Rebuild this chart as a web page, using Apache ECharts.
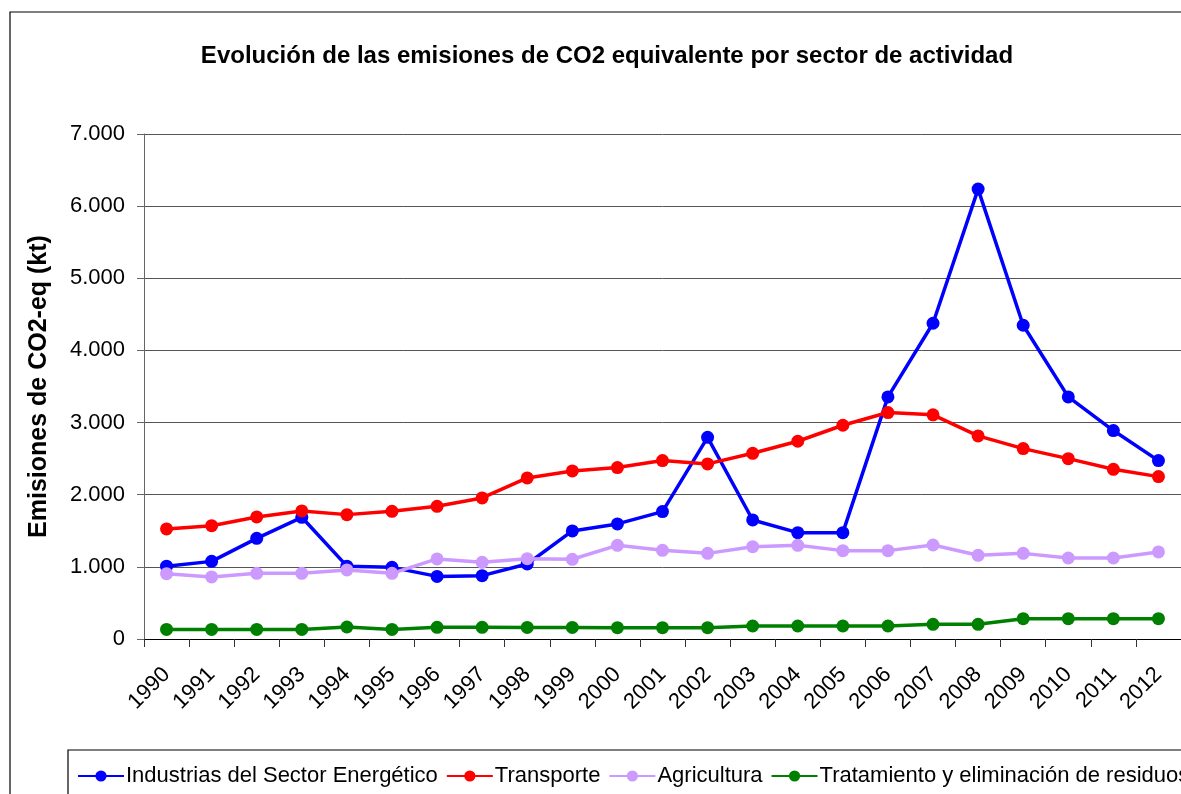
<!DOCTYPE html>
<html>
<head>
<meta charset="utf-8">
<script src="https://cdn.jsdelivr.net/npm/echarts@6/dist/echarts.min.js"></script>
<style>
html,body{margin:0;padding:0;background:#fff;}
#chart{width:1181px;height:794px;}
</style>
</head>
<body>
<div id="chart"></div>
<script>
const years = ['1990','1991','1992','1993','1994','1995','1996','1997','1998','1999','2000','2001','2002','2003','2004','2005','2006','2007','2008','2009','2010','2011','2012'];
const industrias = [1010,1076,1395,1687,1010,993,868,878,1040,1498,1595,1766,2796,1650,1474,1474,3356,4377,6236,4349,3356,2889,2473];
const transporte = [1526,1571,1692,1775,1724,1770,1839,1955,2233,2330,2376,2473,2427,2574,2741,2963,3139,3107,2815,2639,2500,2352,2251];
const agricultura = [906,860,910,910,957,910,1110,1063,1114,1105,1298,1229,1187,1280,1298,1225,1225,1303,1160,1187,1123,1123,1207];
const residuos = [133,133,133,133,166,133,162,162,160,160,157,157,157,180,180,180,180,203,203,282,282,282,282];
const seriesNames = ['Industrias del Sector Energético','Transporte','Agricultura','Tratamiento y eliminación de residuos'];
const colors = ['#0000FF','#FF0000','#CC99FF','#008000'];
const yTicks = {min:0, max:7000, interval:1000};

const FONT = '"Liberation Sans", Arial, sans-serif';
const chart = echarts.init(document.getElementById('chart'));

function mk(name, data, color){
  return {
    name: name, type: 'line', data: data,
    symbol: 'circle', symbolSize: 13,
    lineStyle: {color: color, width: 3.5},
    itemStyle: {color: color},
    animation: false
  };
}

chart.setOption({
  backgroundColor: '#fff',
  animation: false,
  title: {
    text: 'Evolución de las emisiones de CO2 equivalente por sector de actividad',
    left: 602, textAlign: 'center', top: 39,
    textStyle: {fontFamily: FONT, fontSize: 24, fontWeight: 'bold', color: '#000'}
  },
  graphic: [
    {type:'rect', shape:{x:10, y:12, width:1200, height:820}, style:{fill:'none', stroke:'#000', lineWidth:1.2}, silent:true, z:-1},
    {type:'rect', shape:{x:68, y:750, width:1200, height:80}, style:{fill:'none', stroke:'#000', lineWidth:1.2}, silent:true, z:-1}
  ],
  legend: {
    left: 72, top: 760, width: 1600,
    itemWidth: 46, itemHeight: 14, itemGap: 8,
    textStyle: {fontFamily: FONT, fontSize: 22, color: '#000', padding:[0,0,0,-3]},
    data: seriesNames
  },
  grid: {left: 144, right: 0, top: 134, bottom: 155, containLabel: false},
  xAxis: {
    type: 'category', data: years, boundaryGap: true,
    axisLine: {lineStyle: {color: '#000', width: 1}},
    axisTick: {show: true, alignWithLabel: false, length: 8, lineStyle: {color: '#333'}},
    axisLabel: {rotate: 45, margin: 32, fontFamily: FONT, fontSize: 22, color: '#000', interval: 0},
    splitLine: {show: false}
  },
  yAxis: {
    type: 'value', min: yTicks.min, max: yTicks.max, interval: yTicks.interval,
    name: 'Emisiones de CO2-eq (kt)', nameLocation: 'middle', nameGap: 92,
    nameTextStyle: {fontFamily: FONT, fontSize: 25, fontWeight: 'bold', color: '#000'},
    axisLine: {show: true, lineStyle: {color: '#666', width: 1}},
    axisTick: {show: true, length: 7, lineStyle: {color: '#666'}},
    axisLabel: {margin: 19, fontFamily: FONT, fontSize: 22, color: '#000',
      formatter: v => v >= 1000 ? Math.floor(v/1000) + '.' + String(v%1000).padStart(3,'0') : String(v)},
    splitLine: {show: true, lineStyle: {color: '#555', width: 1}}
  },
  series: [
    mk(seriesNames[0], industrias, colors[0]),
    mk(seriesNames[1], transporte, colors[1]),
    mk(seriesNames[2], agricultura, colors[2]),
    mk(seriesNames[3], residuos, colors[3])
  ]
});
</script>
</body>
</html>
